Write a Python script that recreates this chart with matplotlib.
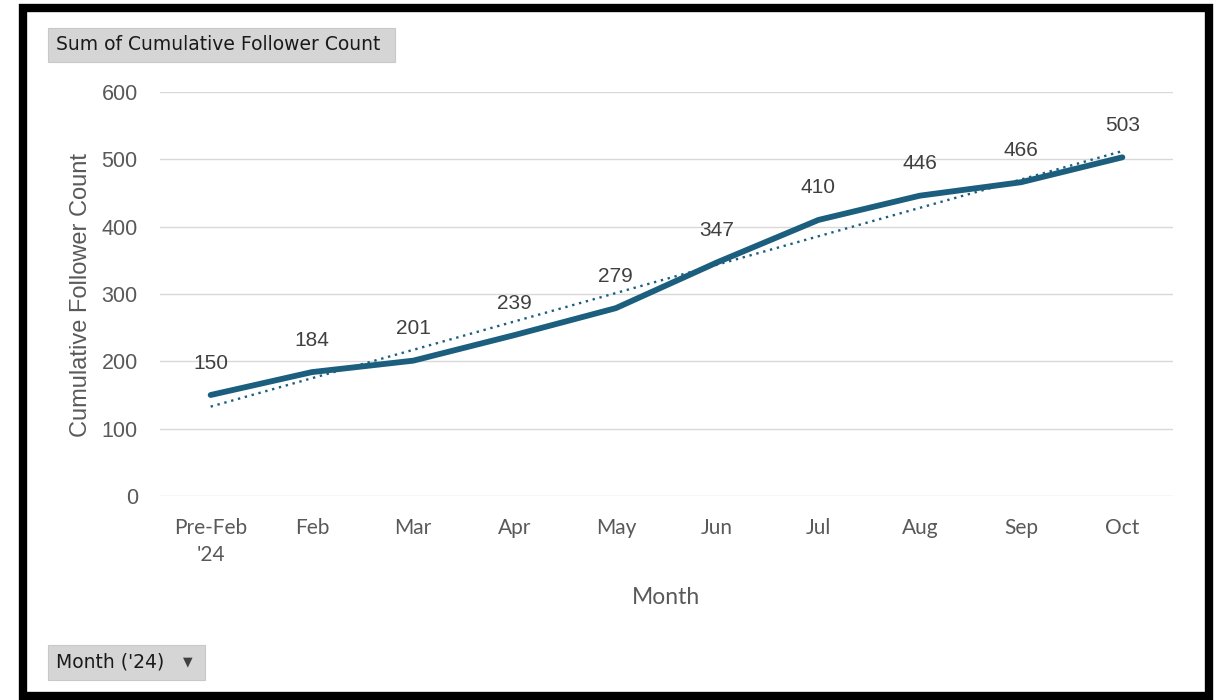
import numpy as np
import matplotlib.pyplot as plt
from matplotlib.patches import Rectangle

months = ["Pre-Feb\n'24", "Feb", "Mar", "Apr", "May", "Jun", "Jul", "Aug", "Sep", "Oct"]
followers = [150, 184, 201, 239, 279, 347, 410, 446, 466, 503]
yticks = [0, 100, 200, 300, 400, 500, 600]

W, H = 1217, 700
line_color = '#1B5E7E'
text_gray = '#595959'

fig = plt.figure(figsize=(W / 100, H / 100), dpi=100)
fig.patch.set_facecolor('white')

# plot area in pixel coords
left, right, top, bottom = 160, 1173, 92, 496
ax = fig.add_axes([left / W, 1 - bottom / H, (right - left) / W, (bottom - top) / H])

x = np.arange(len(months))
ax.plot(x, followers, color=line_color, lw=4.2, solid_capstyle='round', zorder=3)

# linear trendline
k, b = np.polyfit(x, followers, 1)
ax.plot(x, k * x + b, color=line_color, lw=1.7, ls=(0, (1, 2)), zorder=2)

for xi, v in zip(x, followers):
    ax.annotate(str(v), (xi, v), xytext=(0, 23), textcoords='offset points',
                ha='center', va='center', fontsize=15, color='#404040',
                family='Liberation Sans')

ax.set_xlim(-0.5, len(months) - 0.5)
ax.set_ylim(0, 600)
ax.set_yticks(yticks)
ax.set_xticks(x)
ax.set_xticklabels(months, fontsize=15, color=text_gray, family='Lato', linespacing=1.45)
ax.tick_params(axis='y', labelsize=15.5, labelcolor=text_gray, length=0, pad=16)
ax.tick_params(axis='x', length=0, pad=16)
for lbl in ax.get_yticklabels():
    lbl.set_family('Liberation Sans')
ax.grid(axis='y', color='#D9D9D9', lw=1)
ax.set_axisbelow(True)
for s in ax.spines.values():
    s.set_visible(False)

ax.set_xlabel('Month', fontsize=16.5, color=text_gray, family='Lato')
ax.xaxis.label.set_va('center')
ax.xaxis.set_label_coords(0.5, (496 - 597) / 404)
ax.set_ylabel('Cumulative Follower Count', fontsize=17, color=text_gray,
              family='Liberation Sans')
ax.yaxis.label.set_va('center')
ax.yaxis.set_label_coords((81 - 160) / 1013, (496 - 295) / 404)

# outer black frame
fig.patches.append(Rectangle((23 / W, 4 / H), (1209 - 23) / W, (692 - 4) / H,
                             transform=fig.transFigure, fill=False,
                             edgecolor='black', lw=6))

# pivot field buttons
def button(x0, y0, x1, y1, label):
    fig.patches.append(Rectangle((x0 / W, 1 - y1 / H), (x1 - x0) / W, (y1 - y0) / H,
                                 transform=fig.transFigure, facecolor='#D5D5D5',
                                 edgecolor='#C8C8C8', lw=0.8))
    fig.text((x0 + 8) / W, 1 - (y0 + y1) / 2 / H, label, fontsize=13.5,
             color='#1a1a1a', family='DejaVu Sans', va='center', ha='left')

button(48, 28, 395, 62, 'Sum of Cumulative Follower Count')
button(48, 645, 205, 680, "Month ('24)")
fig.text(188 / W, 1 - 662 / H, '\u25BC', fontsize=9, color='#404040',
         family='DejaVu Sans', ha='center', va='center')

fig.savefig('out.png', dpi=100)
